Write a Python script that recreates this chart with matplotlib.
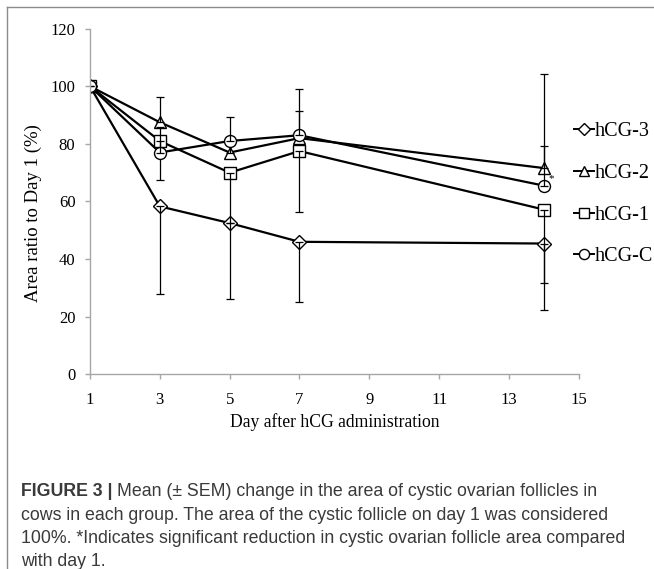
import matplotlib
matplotlib.use("Agg")
import matplotlib.pyplot as plt
from matplotlib.lines import Line2D

# data
days = [1, 3, 5, 7, 14]
labels = ["hCG-3", "hCG-2", "hCG-1", "hCG-C"]
markers = ["D", "^", "s", "o"]
marker_sizes = [7, 8.5, 8.4, 8.6]

hcg3 = [100, 58.3, 52.5, 46.0, 45.4]
hcg2 = [100, 87.5, 77.0, 82.0, 71.6]
hcg1 = [100, 81.0, 70.0, 77.5, 57.2]
hcgc = [100, 77.0, 81.0, 83.0, 65.5]

# one-sided SEM bars (lower, upper) as drawn in the original
hcg3_err = [[0, 30.3, 26.2, 21.0, 23.1], [0, 0, 0, 0, 0]]
hcg2_err = [[0, 0, 0, 0, 0], [0, 8.7, 4.0, 9.4, 32.5]]
hcg1_err = [[0, 13.5, 17.5, 21.2, 25.4], [0, 0, 0, 0, 0]]
hcgc_err = [[0, 0, 0, 0, 0], [0, 9.0, 8.5, 16.0, 13.8]]

series = [hcg3, hcg2, hcg1, hcgc]
errors = [hcg3_err, hcg2_err, hcg1_err, hcgc_err]

serif = ["Liberation Serif", "DejaVu Serif"]
sans = ["Liberation Sans", "DejaVu Sans"]

fig = plt.figure(figsize=(6.54, 5.69), dpi=100)
ax = fig.add_axes([0.1376, 0.3422, 0.7473, 0.6074])

for vals, err, lab, mk, ms in zip(series, errors, labels, markers, marker_sizes):
    ax.plot(days, vals, color="black", lw=1.6, marker=mk, ms=ms,
            mfc="white", mec="black", mew=1.0, label=lab, zorder=2)
    ax.errorbar(days, vals, yerr=err, fmt="none", ecolor="black",
                elinewidth=0.9, capsize=3, capthick=0.9, zorder=2)

# legend keys: short line with a slightly smaller marker
legend_keys = [Line2D([], [], color="black", lw=1.4, marker=mk, ms=ms * 0.85,
                      mfc="white", mec="black", mew=1.0)
               for mk, ms in zip(markers, marker_sizes)]

# significance mark
ax.text(14.12, hcgc[4] + 1.0, "*", fontsize=8, family=serif, ha="left", va="bottom")

ax.set_xlim(1, 15)
ax.set_ylim(0, 120)
ax.set_xticks([1, 3, 5, 7, 9, 11, 13, 15])
ax.set_yticks([0, 20, 40, 60, 80, 100, 120])
for s in ["top", "right"]:
    ax.spines[s].set_visible(False)
for s in ["left", "bottom"]:
    ax.spines[s].set_color("#a6a6a6")
    ax.spines[s].set_linewidth(1.0)
ax.tick_params(axis="both", color="#a6a6a6", length=3.5, width=1.0, labelsize=12)
ax.tick_params(axis="x", pad=9)
ax.tick_params(axis="y", pad=7)
for t in ax.get_xticklabels() + ax.get_yticklabels():
    t.set_family(serif)

ax.set_xlabel("Day after hCG administration", fontsize=12.7, family=serif)
ax.set_ylabel("Area ratio to Day 1 (%)", fontsize=13.5, family=serif)
ax.xaxis.set_label_coords(0.5, -0.137)
ax.xaxis.label.set_va("center")
ax.yaxis.set_label_coords(-0.1166, 0.467)
ax.yaxis.label.set_va("center")

leg = ax.legend(legend_keys, labels, loc="upper left", bbox_to_anchor=(0.862, 0.803),
                bbox_transform=fig.transFigure, frameon=False, handlelength=0.98,
                handletextpad=0.05, labelspacing=1.12, borderpad=0,
                prop={"family": serif, "size": 14.5})

# frame lines of the figure panel
fig.add_artist(Line2D([0.0107, 1.0], [0.9877, 0.9877], color="#8c8c8c", lw=1.0))
fig.add_artist(Line2D([0.0107, 0.0107], [0.0, 0.9877], color="#8c8c8c", lw=1.0))

# caption
cap_color = "#3a3a3a"
cap_size = 12.8
x0 = 0.032
head = fig.text(x0, 0.1366, "FIGURE 3 |", fontsize=cap_size, family=sans, weight="bold",
                color=cap_color, va="center")
fig.canvas.draw()
bb = head.get_window_extent().transformed(fig.transFigure.inverted())
fig.text(bb.x1 + 0.007, 0.1366,
         "Mean (\u00b1 SEM) change in the area of cystic ovarian follicles in",
         fontsize=cap_size, family=sans, color=cap_color, va="center")
fig.text(x0, 0.0948, "cows in each group. The area of the cystic follicle on day 1 was considered",
         fontsize=cap_size, family=sans, color=cap_color, va="center")
fig.text(x0, 0.0530, "100%. *Indicates significant reduction in cystic ovarian follicle area compared",
         fontsize=cap_size, family=sans, color=cap_color, va="center")
fig.text(x0, 0.0125, "with day 1.", fontsize=cap_size, family=sans, color=cap_color, va="center")

fig.savefig("out.png", dpi=100)
